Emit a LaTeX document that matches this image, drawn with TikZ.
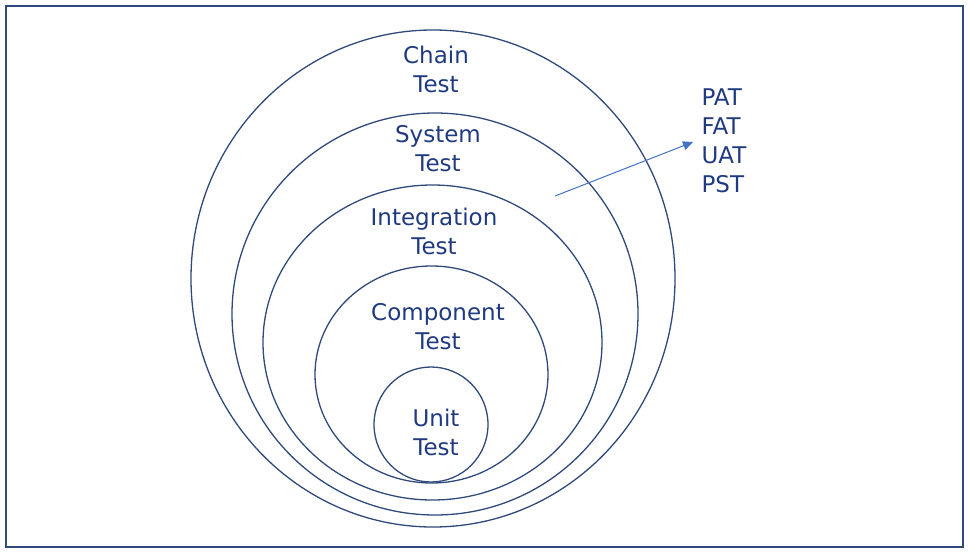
\documentclass[tikz,border=0pt]{standalone}
\usepackage{fontspec}
\setmainfont{DejaVu Sans}
\usetikzlibrary{arrows.meta}
\definecolor{txt}{HTML}{1F3A80}
\definecolor{ln}{HTML}{2F4A7A}
\definecolor{arr}{HTML}{4472C4}
\begin{document}
\begin{tikzpicture}[x=1pt,y=-1pt,
  lab/.style={text=txt,font=\fontsize{23}{29}\selectfont,align=center},
  ring/.style={draw=ln,line width=1.3pt}]
\useasboundingbox (0,0) rectangle (969,552);
\draw[ln,line width=1.3pt] (6,6) rectangle (963,547);
\draw[ring] (433,278.5) ellipse [x radius=242,y radius=248.5];
\draw[ring] (435,314) ellipse [x radius=203,y radius=201];
\draw[ring] (432.5,342.5) ellipse [x radius=169.5,y radius=157.5];
\draw[ring] (431.5,374.5) ellipse [x radius=116.5,y radius=108.5];
\draw[ring] (431,424.5) ellipse [x radius=57,y radius=57.5];
\node[lab] (chain) at (436,69) {Chain\\Test};
\node[lab] (system) at (438,149) {System\\Test};
\node[lab] (integ) at (434,231) {Integration\\Test};
\node[lab] (comp) at (438,327) {Component\\Test};
\node[lab] (unit) at (436,432) {Unit\\Test};
\node[lab,align=left,anchor=north west] (list) at (698,85) {PAT\\FAT\\UAT\\PST};
\coordinate (a) at (555,196);
\coordinate (b) at (693,142);
\draw[arr,line width=1pt,-{Triangle[length=10pt,width=9pt]}] (a) -- (b);
\end{tikzpicture}
\end{document}
